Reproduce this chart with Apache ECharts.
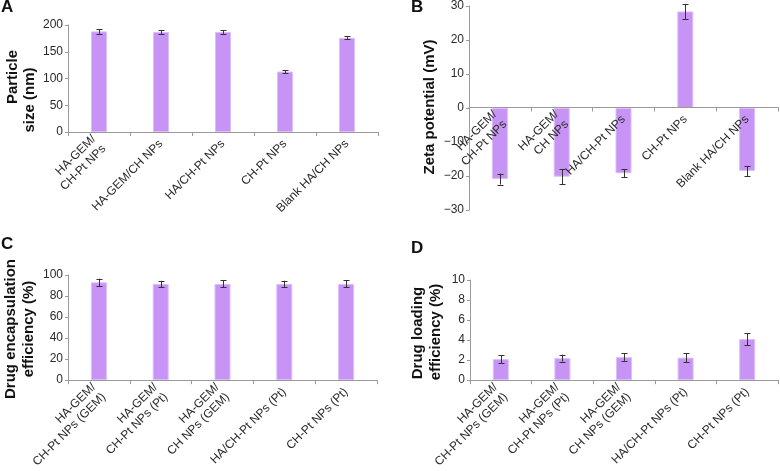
<!DOCTYPE html>
<html>
<head>
<meta charset="utf-8">
<script src="https://cdn.jsdelivr.net/npm/echarts@6/dist/echarts.min.js"></script>
<style>html,body{margin:0;padding:0;background:#fff;}#c{width:780px;height:471px;}</style>
</head>
<body>
<div id="c"></div>
<script>
// ---- data ----
const catsA = ['HA-GEM/\nCH-Pt NPs', 'HA-GEM/CH NPs', 'HA/CH-Pt NPs', 'CH-Pt NPs', 'Blank HA/CH NPs'];
const sizeA = [188, 187, 187, 113, 176];
const errA = [4.5, 3.5, 3.5, 3, 3];

const catsB = ['HA-GEM/\nCH-Pt NPs', 'HA-GEM/\nCH NPs', 'HA/CH-Pt NPs', 'CH-Pt NPs', 'Blank HA/CH NPs'];
const zetaB = [-20.9, -20.2, -19.2, 28.4, -18.5];
const errB = [1.6, 2.2, 1.2, 2.2, 1.5];

const catsCD = ['HA-GEM/\nCH-Pt NPs (GEM)', 'HA-GEM/\nCH-Pt NPs (Pt)', 'HA-GEM/\nCH NPs (GEM)', 'HA/CH-Pt NPs (Pt)', 'CH-Pt NPs (Pt)'];
const encC = [93, 91.5, 91.5, 91.5, 91.5];
const errC = [3.5, 3, 3.3, 3, 3.3];
const loadD = [2.1, 2.2, 2.3, 2.25, 4.1];
const errD = [0.4, 0.35, 0.37, 0.45, 0.6];

const yTicksA = {min: 0, max: 200, interval: 50};
const yTicksB = {min: -30, max: 30, interval: 10};
const yTicksC = {min: 0, max: 100, interval: 20};
const yTicksD = {min: 0, max: 10, interval: 2};

// ---- styles ----
const FONT = 'Liberation Sans, Arial, sans-serif';
const AXIS_COL = '#9a9a9a';
const TXT = '#2a2a2a';
const BAR_COL = '#c794f5';
const BAR_BORDER = '#dcbefa';

const grids = [
  {left: 68, top: 25, width: 310, height: 107},
  {left: 469, top: 5, width: 309, height: 205},
  {left: 68, top: 275, width: 309, height: 109},
  {left: 470, top: 280, width: 308, height: 104}
];

function xAxis(i, cats, offset) {
  return {
    type: 'category', gridIndex: i, data: cats,
    offset: offset || 0, z: 10,
    axisLine: {onZero: false, lineStyle: {color: AXIS_COL, width: 1}},
    axisTick: {show: true, length: 4, inside: false, lineStyle: {color: AXIS_COL}},
    axisLabel: {rotate: 45, interval: 0, fontSize: 12, color: TXT, fontFamily: FONT, margin: 10, lineHeight: 14}
  };
}
function yAxis(i, t) {
  return {
    type: 'value', gridIndex: i, min: t.min, max: t.max, interval: t.interval,
    axisLine: {show: true, lineStyle: {color: AXIS_COL, width: 1}},
    axisTick: {show: true, length: 3, lineStyle: {color: AXIS_COL}},
    splitLine: {show: false},
    axisLabel: {fontSize: 12, color: TXT, fontFamily: FONT, margin: 5,
      formatter: v => String(v).replace('-', '\u2212')}
  };
}
function bars(i, vals) {
  return {
    type: 'bar', xAxisIndex: i, yAxisIndex: i, data: vals, barWidth: 16,
    itemStyle: {color: BAR_COL, borderColor: BAR_BORDER, borderWidth: 1},
    silent: true, animation: false
  };
}
function errs(i, vals, e) {
  return {
    type: 'custom', xAxisIndex: i, yAxisIndex: i,
    data: vals.map((v, k) => [k, v - e[k], v + e[k]]),
    encode: {x: 0, y: [1, 2]},
    renderItem: function (params, api) {
      const lo = api.coord([api.value(0), api.value(1)]);
      const hi = api.coord([api.value(0), api.value(2)]);
      const x = Math.round(lo[0]) + 0.5;
      const w = 3;
      const st = {stroke: '#333', lineWidth: 1};
      return {type: 'group', children: [
        {type: 'line', shape: {x1: x, y1: lo[1], x2: x, y2: hi[1]}, style: st},
        {type: 'line', shape: {x1: x - w, y1: Math.round(lo[1]) + 0.5, x2: x + w, y2: Math.round(lo[1]) + 0.5}, style: st},
        {type: 'line', shape: {x1: x - w, y1: Math.round(hi[1]) + 0.5, x2: x + w, y2: Math.round(hi[1]) + 0.5}, style: st}
      ]};
    },
    z: 5, silent: true, animation: false
  };
}
function vtext(txt, x, y, size) {
  return {type: 'text', x: x, y: y, rotation: Math.PI / 2,
    style: {text: txt, font: 'bold ' + size + 'px ' + FONT, fill: '#111', textAlign: 'center', textVerticalAlign: 'middle'}};
}
function letter(txt, x, y) {
  return {type: 'text', x: x, y: y,
    style: {text: txt, font: 'bold 17px ' + FONT, fill: '#111', textAlign: 'left', textVerticalAlign: 'top'}};
}

// zero line of panel B sits halfway up its grid (range -30..30)
const zeroOffsetB = -grids[1].height * (0 - yTicksB.min) / (yTicksB.max - yTicksB.min);

const chart = echarts.init(document.getElementById('c'), null, {renderer: 'canvas'});
chart.setOption({
  animation: false,
  backgroundColor: '#fff',
  grid: grids,
  xAxis: [xAxis(0, catsA), xAxis(1, catsB, zeroOffsetB), xAxis(2, catsCD), xAxis(3, catsCD)],
  yAxis: [yAxis(0, yTicksA), yAxis(1, yTicksB), yAxis(2, yTicksC), yAxis(3, yTicksD)],
  series: [
    bars(0, sizeA), errs(0, sizeA, errA),
    bars(1, zetaB), errs(1, zetaB, errB),
    bars(2, encC), errs(2, encC, errC),
    bars(3, loadD), errs(3, loadD, errD)
  ],
  graphic: [
    letter('A', 1, -1), letter('B', 411, -1), letter('C', 1, 236), letter('D', 411, 240),
    vtext('Particle', 13, 77, 15), vtext('size (nm)', 30, 100, 15),
    vtext('Zeta potential (mV)', 430, 107, 15),
    vtext('Drug encapsulation', 11, 329, 15), vtext('efficiency (%)', 29, 329, 15),
    vtext('Drug loading', 418, 333, 15), vtext('efficiency (%)', 436, 332, 15)
  ]
});
</script>
</body>
</html>
